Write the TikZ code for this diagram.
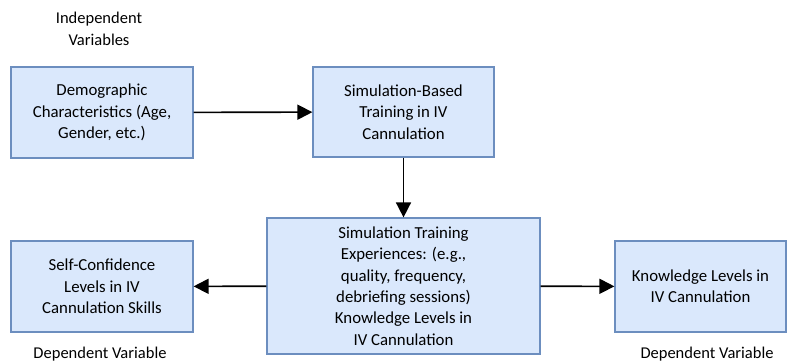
\documentclass[tikz,border=0pt]{standalone}
\usepackage{fontspec}
\setmainfont{Carlito}
\usetikzlibrary{arrows.meta}

\definecolor{boxfill}{HTML}{DAE8FC}
\definecolor{boxline}{HTML}{6C8EBF}

\tikzset{
  Box/.style={draw=boxline, fill=boxfill, line width=1.2pt, inner sep=0pt,
    align=center, font=\fontsize{16.8}{21.3}\selectfont},
  Caption/.style={align=center, font=\fontsize{16.5}{22}\selectfont},
  Link/.style={-{Triangle[length=15pt,width=15pt]}, line width=1.6pt}
}

\begin{document}
\begin{tikzpicture}[x=1pt,y=-1pt]

\useasboundingbox (0,0) rectangle (787,363);

\node[Box, minimum width=182pt, minimum height=91pt] (Demo) at (102,112.5)
  {Demographic\\Characteristics (Age,\\Gender, etc.)};
\node[Box, minimum width=181pt, minimum height=90pt] (SimBased) at (403.5,112)
  {Simulation-Based\\Training in IV\\Cannulation};
\node[Box, minimum width=273pt, minimum height=136pt] (SimExp) at (403.5,286)
  {Simulation Training\\Experiences: (e.g.,\\quality, frequency,\\debriefing sessions)\\Knowledge Levels in\\IV Cannulation};
\node[Box, minimum width=182pt, minimum height=91pt] (SelfConf) at (102,286.5)
  {Self-Confidence\\Levels in IV\\Cannulation Skills};
\node[Box, minimum width=171pt, minimum height=91pt] (Knowl) at (700.5,286.5)
  {Knowledge Levels in\\IV Cannulation};

\node[Caption] (IndepVar) at (99,29) {Independent\\Variables};
\node[Caption] (DepVarL) at (100,354) {Dependent Variable};
\node[Caption] (DepVarR) at (707,354) {Dependent Variable};

\draw[Link] (Demo) -- (SimBased);
\draw[Link] (SimBased) -- (SimExp);
\draw[Link] (SimExp) -- (SelfConf);
\draw[Link] (SimExp) -- (Knowl);

\end{tikzpicture}
\end{document}
